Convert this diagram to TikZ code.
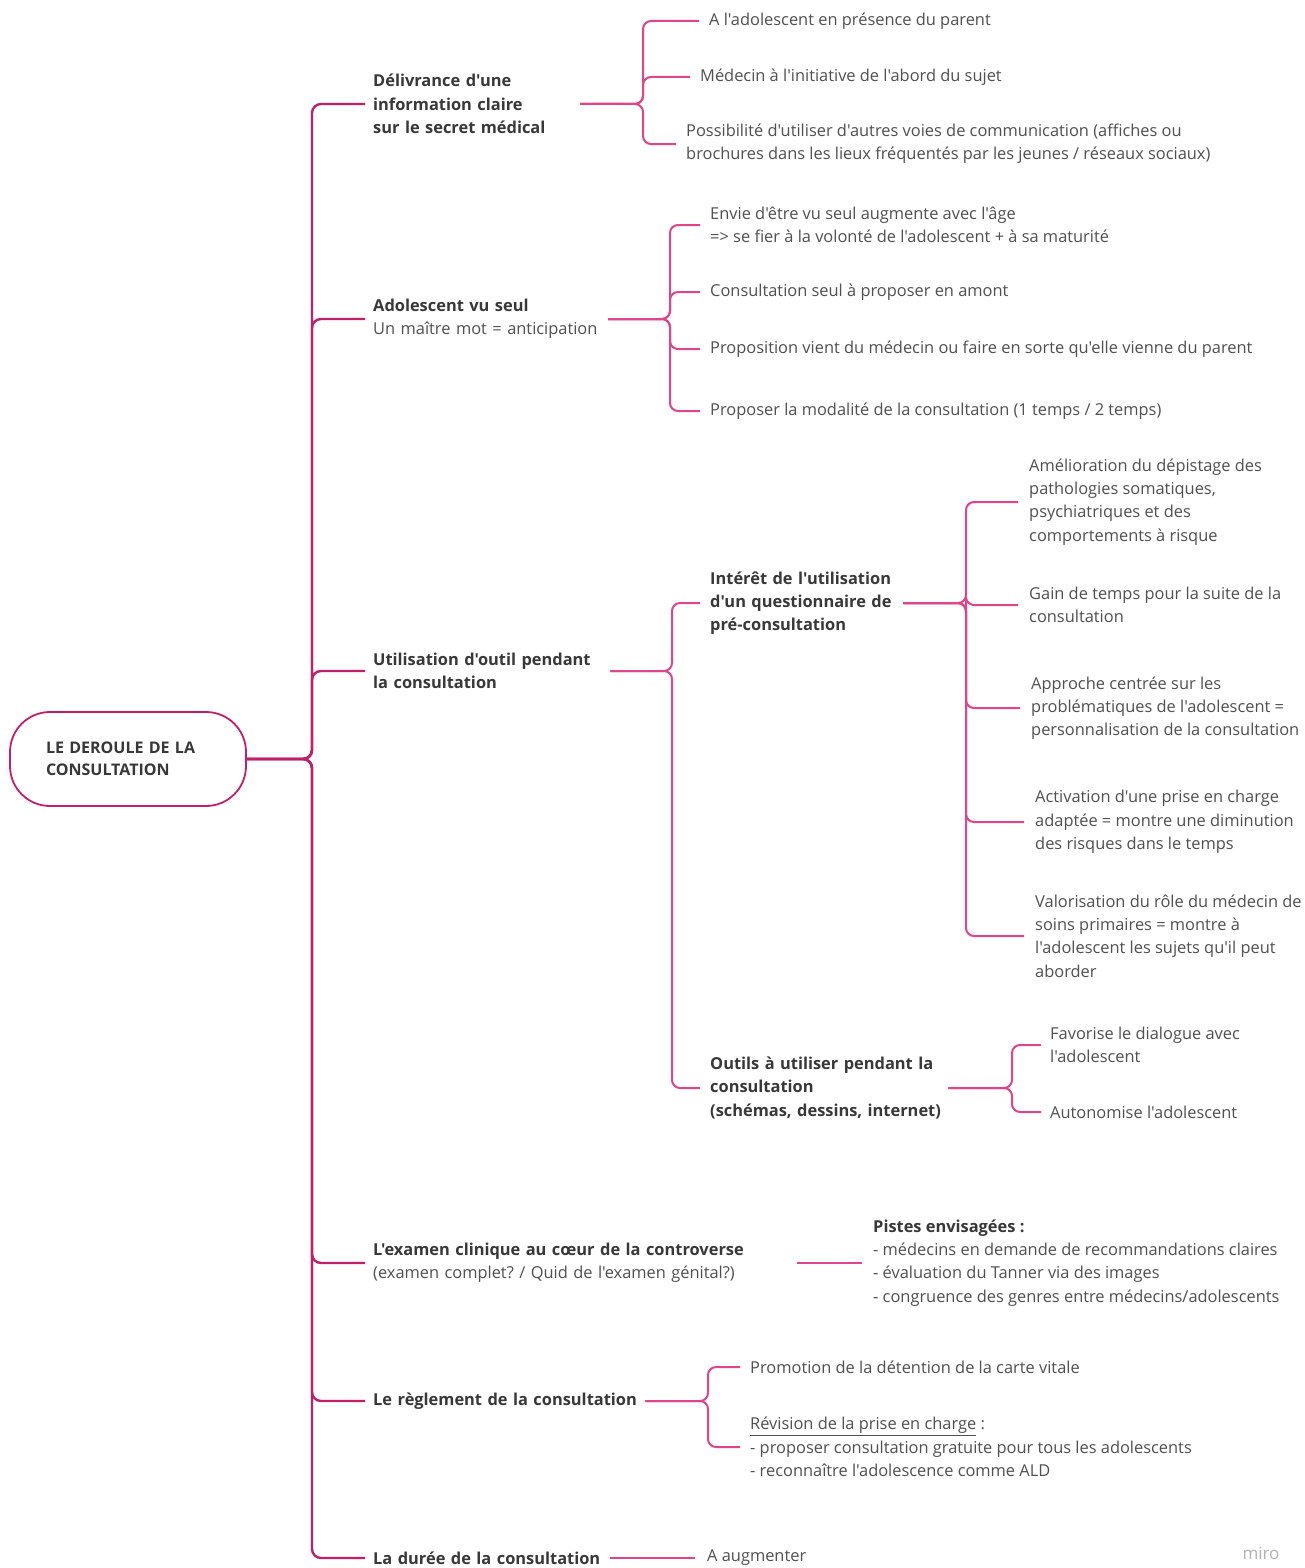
\documentclass[tikz,border=0pt]{standalone}
\usepackage{fontspec}
\setmainfont{Open Sans}[Ligatures=TeXOff]
\frenchspacing
\definecolor{tc}{HTML}{505050}
\definecolor{tb}{HTML}{383838}
\definecolor{trc}{HTML}{C21F6A}
\definecolor{brc}{HTML}{E0448A}
\begin{document}
\begin{tikzpicture}[x=1pt,y=-1pt,
 txt/.style={anchor=west,align=left,inner sep=0pt,text=tc,font=\fontsize{16.4}{23.3}\selectfont},
 btxt/.style={txt,text=tb,font=\fontsize{16.4}{23.3}\selectfont\bfseries},
 trunk/.style={draw=trc,line width=2.4pt,rounded corners=9pt},
 br/.style={draw=brc,line width=2pt,rounded corners=8pt}]
\useasboundingbox[fill=white] (0,0) rectangle (1305,1568);

% root
\node[draw=trc, line width=1.8pt, rounded corners=40pt, minimum height=94pt, text width=164pt, inner xsep=36pt, align=left, font=\fontsize{16}{22}\selectfont\bfseries, text=tb] (r) at (128,759) {LE DEROULE DE LA\\CONSULTATION};

% level 1
\node[btxt,text width=207pt] (a) at (373,104) {Délivrance d'une\\information claire\\sur le secret médical};
\node[txt,text width=235pt] (b) at (373,319) {{\bfseries\color{tb}Adolescent vu seul}\\Un maître mot = anticipation};
\node[btxt,text width=237pt] (c) at (373,671) {Utilisation d'outil pendant\\la consultation};
\node[txt,text width=424pt] (d) at (373,1263) {{\bfseries\color{tb}L'examen clinique au cœur de la controverse}\\(examen complet? / Quid de l'examen génital?)};
\node[btxt,text width=272pt] (e) at (373,1401) {Le règlement de la consultation};
\node[btxt,text width=231pt] (f) at (373,1558) {\mbox{La durée de la consultation}};

% children of a
\node[txt] (a1) at (709,21) {A l'adolescent en présence du parent};
\node[txt] (a2) at (700,77) {Médecin à l'initiative de l'abord du sujet};
\node[txt] (a3) at (686,144) {Possibilité d'utiliser d'autres voies de communication (affiches ou\\brochures dans les lieux fréquentés par les jeunes / réseaux sociaux)};

% children of b
\node[txt] (b1) at (710,225) {Envie d'être vu seul augmente avec l'âge\\=> se fier à la volonté de l'adolescent + à sa maturité};
\node[txt] (b2) at (710,292) {Consultation seul à proposer en amont};
\node[txt] (b3) at (710,349) {Proposition vient du médecin ou faire en sorte qu'elle vienne du parent};
\node[txt] (b4) at (710,411) {Proposer la modalité de la consultation (1 temps / 2 temps)};

% children of c
\node[btxt,text width=193pt] (c1) at (710,603) {\mbox{Intérêt de l'utilisation}\\\mbox{d'un questionnaire de}\\pré-consultation};
\node[btxt,text width=238pt] (c2) at (710,1088) {Outils à utiliser pendant la\\consultation\\\mbox{(schémas, dessins, internet)}};

\node[txt] (c11) at (1029,502) {Amélioration du dépistage des\\pathologies somatiques,\\psychiatriques et des\\comportements à risque};
\node[txt] (c12) at (1029,605) {Gain de temps pour la suite de la\\consultation};
\node[txt] (c13) at (1031,708) {Approche centrée sur les\\problématiques de l'adolescent =\\personnalisation de la consultation};
\node[txt] (c14) at (1035,822) {Activation d'une prise en charge\\adaptée = montre une diminution\\des risques dans le temps};
\node[txt] (c15) at (1035,936) {Valorisation du rôle du médecin de\\soins primaires = montre à\\l'adolescent les sujets qu'il peut\\aborder};

\node[txt] (c21) at (1050,1045) {Favorise le dialogue avec\\l'adolescent};
\node[txt] (c22) at (1050,1112) {Autonomise l'adolescent};

% child of d
\node[txt] (d1) at (873,1263) {{\bfseries\color{tb}Pistes envisagées :}\\- médecins en demande de recommandations claires\\- évaluation du Tanner via des images\\- congruence des genres entre médecins/adolescents};

% children of e
\node[txt] (e1) at (750,1367) {Promotion de la détention de la carte vitale};
\node[txt] (e2) at (750,1447) {\underline{Révision de la prise en charge} :\\- proposer consultation gratuite pour tous les adolescents\\- reconnaître l'adolescence comme ALD};

% child of f
\node[txt] (f1) at (707,1558) {A augmenter};

\node[text=black!30, font=\fontsize{17}{17}\selectfont, inner sep=0pt] (m) at (1261,1553) {miro};

% connectors
\foreach \n in {a,b,c,d,e,f}
  \draw[trunk] (r.east) -- (312,0 |- r.east) |- ([xshift=-8pt]\n.west);

\foreach \k in {a1,a2,a3}
  \draw[br] (a.east) -- (643,0 |- a.east) |- ([xshift=-10pt]\k.west);
\foreach \k in {b1,b2,b3,b4}
  \draw[br] (b.east) -- (670,0 |- b.east) |- ([xshift=-10pt]\k.west);
\foreach \k in {c1,c2}
  \draw[br] (c.east) -- (672,0 |- c.east) |- ([xshift=-10pt]\k.west);
\foreach \k in {c11,c12,c13,c14,c15}
  \draw[br] (c1.east) -- (966,0 |- c1.east) |- ([xshift=-11pt]\k.west);
\foreach \k in {c21,c22}
  \draw[br] (c2.east) -- (1012,0 |- c2.east) |- ([xshift=-9pt]\k.west);
\draw[br,shorten >=11pt] (d.east) -- (d1.west |- d.east);
\foreach \k in {e1,e2}
  \draw[br] (e.east) -- (708,0 |- e.east) |- ([xshift=-10pt]\k.west);
\draw[br,shorten >=12pt,shorten <=6pt] (f.east) -- (f1.west |- f.east);
\end{tikzpicture}
\end{document}
